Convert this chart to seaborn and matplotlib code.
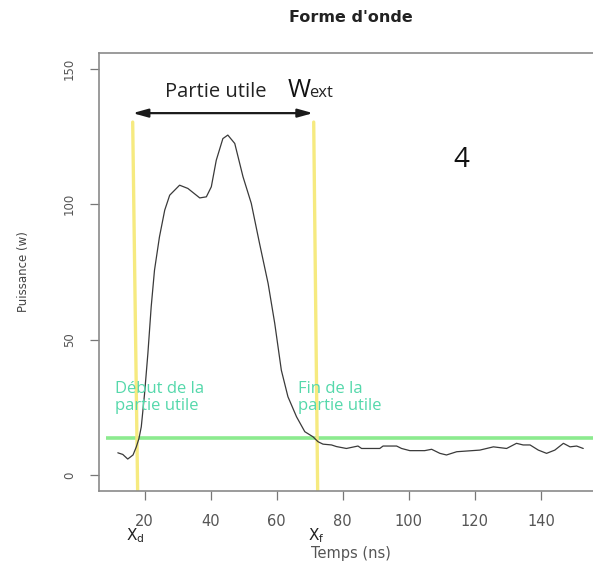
import matplotlib
matplotlib.use("Agg")
import matplotlib.pyplot as plt
import seaborn as sns
import pandas as pd

# ---- data ----
temps = [11.9, 13.4, 14.9, 16.5, 17.5, 18.3, 19.0, 20.0, 21.0, 22.0, 23.0, 24.5, 26.1,
         27.6, 30.6, 33.1, 36.7, 38.7, 40.2, 41.7, 43.7, 45.2, 47.3, 49.8, 52.3, 54.8,
         57.4, 59.4, 61.4, 63.4, 66.0, 68.5, 71.0, 72.5, 74.0, 76.6, 78.1, 81.1, 84.6,
         85.7, 91.2, 92.2, 96.3, 97.8, 100.3, 104.8, 106.9, 109.4, 111.4, 114.5, 121.5,
         125.6, 129.6, 132.6, 134.6, 136.7, 139.2, 141.7, 144.2, 146.8, 148.8, 150.8, 152.8]
puissance = [8.2, 7.6, 5.9, 7.4, 10.4, 13.5, 17.8, 30.1, 44.9, 62.1, 75.6, 87.9, 97.8,
             103.3, 107.0, 105.8, 102.3, 102.7, 106.4, 116.2, 124.2, 125.5, 122.4, 110.1,
             100.3, 85.5, 70.7, 56.0, 38.7, 28.9, 21.5, 16.0, 14.1, 12.3, 11.4, 11.1, 10.5,
             9.8, 10.7, 9.8, 9.8, 10.7, 10.7, 9.8, 9.0, 9.0, 9.5, 8.0, 7.4, 8.6, 9.2, 10.4,
             9.8, 11.7, 11.1, 11.1, 9.2, 8.0, 9.2, 11.7, 10.4, 10.7, 9.8]
x_ticks = [20, 40, 60, 80, 100, 120, 140]
y_ticks = [0, 50, 100, 150]
seuil = 13.6
debut_x = [16.4, 17.9]
fin_x = [71.2, 72.4]
ligne_y = [130.3, -6.0]

df = pd.DataFrame({"Temps": temps, "Puissance": puissance})

sns.set_style("white")
plt.rcParams['font.family'] = ['DejaVu Sans']

fig = plt.figure(figsize=(5.93, 5.62), dpi=100)
ax = fig.add_axes([99 / 593, (562 - 491) / 562, (602.4 - 99) / 593, (491 - 53) / 562])

sns.lineplot(data=df, x="Temps", y="Puissance", ax=ax, color="#3a3a3a", lw=0.9)

ax.set_xlim(6.2, 158.6)
ax.set_ylim(-5.9, 155.8)
ax.set_xticks(x_ticks)
ax.set_yticks(y_ticks)

for s in ax.spines.values():
    s.set_color("#8a8a8a")
    s.set_linewidth(1.2)
ax.spines["right"].set_visible(False)

ax.tick_params(axis="both", direction="out", length=6.5, width=0.9, color="#777777",
               labelcolor="#555555", pad=10, left=True, bottom=True)
ax.tick_params(axis="x", labelsize=10.5)
ax.tick_params(axis="y", labelsize=8.5, labelrotation=90)
for lab in ax.get_yticklabels():
    lab.set_va("center")

ax.set_xlabel("Temps (ns)", fontsize=10.5, color="#555555", labelpad=12)
ax.set_ylabel("Puissance (w)", fontsize=8.5, color="#444444", labelpad=24)
ax.set_title("Forme d'onde", fontsize=11.5, fontweight="bold", color="#222222", pad=22)

# threshold line and limits of the useful part
ax.plot([8.2, 170], [seuil, seuil], color="#8ceb8f", lw=2.6, solid_capstyle="butt", zorder=1)
ax.plot(debut_x, ligne_y, color="#f6ea80", lw=2.4, zorder=1)
ax.plot(fin_x, ligne_y, color="#f6ea80", lw=2.4, zorder=1)

# arrow
ax.annotate("", xy=(16.4, 133.6), xytext=(71.0, 133.6),
            arrowprops=dict(arrowstyle="<|-|>,head_length=0.9,head_width=0.25",
                            color="#1a1a1a", lw=1.6, shrinkA=0, shrinkB=0))
ax.text(26.1, 139.5, "Partie utile", fontsize=14.5, family="Open Sans", color="#222222",
        va="baseline", ha="left")
ax.text(63.3, 139.5, "W", fontsize=18, family="Open Sans", color="#111111",
        va="baseline", ha="left")
ax.text(69.8, 139.5, "ext", fontsize=12, family="Open Sans", color="#222222",
        va="baseline", ha="left")

ax.text(115.8, 116.2, "4", fontsize=20, family="Open Sans", color="#111111",
        ha="center", va="center")

teal = "#55d8ab"
ax.text(10.9, 34.8, "Début de la\npartie utile", fontsize=12, family="Open Sans",
        color=teal, ha="left", va="top", linespacing=1.12)
ax.text(66.4, 34.8, "Fin de la\npartie utile", fontsize=12, family="Open Sans",
        color=teal, ha="left", va="top", linespacing=1.12)

ax.text(14.5, -22.5, r"$\mathrm{X_d}$", fontsize=11, color="#222222",
        ha="left", va="center", clip_on=False)
ax.text(69.4, -22.5, r"$\mathrm{X_f}$", fontsize=11, color="#222222",
        ha="left", va="center", clip_on=False)

fig.savefig("out.png", dpi=100)
